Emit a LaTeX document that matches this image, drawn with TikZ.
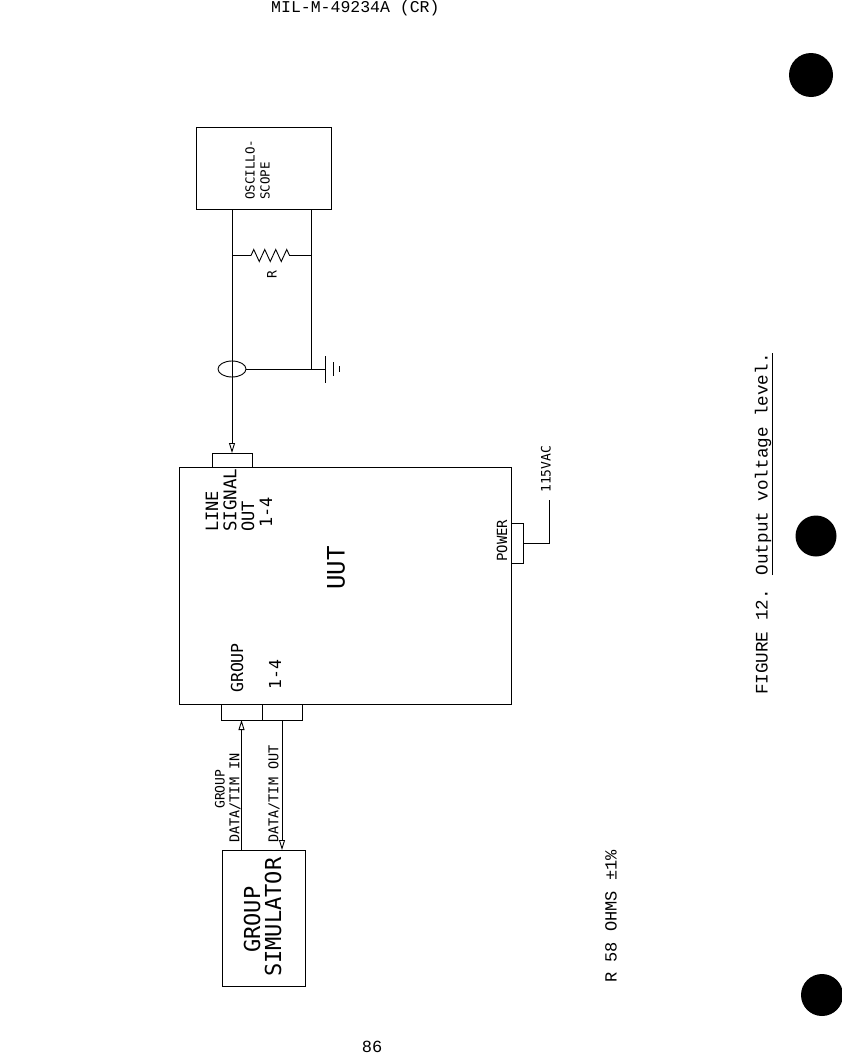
\documentclass[tikz,border=0pt]{standalone}
\usepackage{fontspec}
\setmainfont{Liberation Mono}
\newfontfamily\plotfont{DejaVu Sans Mono}
\usetikzlibrary{positioning,arrows.meta}
\usetikzlibrary{shapes.geometric,decorations.pathmorphing}

\begin{document}
\begin{tikzpicture}[
x=1pt,y=-1pt,
squarednode/.style={rectangle, draw=black, line width=.9pt, inner sep=0pt, outer sep=0pt},
wire/.style={draw=black, line width=.9pt},
feed/.style={wire, -{Triangle[open,length=10pt,width=6pt]}},
sidetext/.style={rotate=90, anchor=west, inner sep=0pt, font=\plotfont\fontsize{#1}{#1}\selectfont},
typed/.style={inner sep=0pt, font=\fontsize{#1}{#1}\selectfont},
blackdot/.style={circle, fill=black, inner sep=0pt, minimum size=#1}
]
\useasboundingbox (0,0) rectangle (842,1055);
%Nodes
\node[squarednode, minimum width=332pt, minimum height=237pt] (uut) at (345,585.5) {};
\node[squarednode, minimum width=135pt, minimum height=82pt] (scope) [above=258pt of uut, xshift=-81.5pt] {};
\node[squarednode, minimum width=83pt, minimum height=136pt] (simulator) [below=146pt of uut, xshift=-81.5pt] {};
\node[squarednode, minimum width=40pt, minimum height=14pt] (lineport) [above=0pt of uut, xshift=-113pt] {};
\node[squarednode, minimum width=41pt, minimum height=16pt] (groupin) [below=0pt of uut, xshift=-103.5pt] {};
\node[squarednode, minimum width=40pt, minimum height=16pt] (groupout) [right=0pt of groupin] {};
\node[squarednode, minimum width=12pt, minimum height=40pt] (powerport) [right=0pt of uut, yshift=42.5pt] {};
\node[ellipse, draw=black, line width=.9pt, inner sep=0pt, outer sep=0pt, minimum width=28pt, minimum height=16pt] (clamp) at (232,369) {};
%Junctions
\coordinate (scopeleft) at (scope.south -| clamp);
\coordinate (scoperight) at (311.5,209);
\coordinate (resleft) at (232,255.5);
\coordinate (resright) at (311.5,255.5);
\coordinate (gnd) at (325.5,369);
\coordinate (gndwire) at (311.5,369);
\coordinate (acbend) at (549,543);
\coordinate (acend) at (549,500);
%Lines
\draw[feed] (scopeleft) -- (lineport.north -| clamp);
\draw[wire] (scoperight) -- (gndwire);
\draw[wire] (clamp.east) -- (gnd);
\draw[wire, decorate, decoration={zigzag, segment length=11pt, amplitude=6pt, pre length=19pt, post length=20pt}] (resleft) -- (resright);
\draw[wire] (powerport.east) -- (acbend) -- (acend);
\draw[feed] (simulator.north -| groupin) -- (groupin.south);
\draw[feed] (groupout.south) -- (simulator.north -| groupout);
%Ground bars
\draw[wire] ([yshift=13pt]gnd) -- ([yshift=-14pt]gnd);
\draw[wire] ([xshift=8pt,yshift=7pt]gnd) -- ([xshift=8pt,yshift=-7pt]gnd);
\draw[wire] ([xshift=14pt,yshift=3pt]gnd) -- ([xshift=14pt,yshift=-3pt]gnd);
%Labels
\node[sidetext=12.5] (oscillotext) at (250,200) {OSCILLO-};
\node[sidetext=12.5] (scopetext) at (265,200) {SCOPE};
\node[sidetext=13] (rtext) at (272,279) {R};
\node[sidetext=17] (linetext) at (212,532) {LINE};
\node[sidetext=17.5] (signaltext) at (230,532) {SIGNAL};
\node[sidetext=17] (outtext) at (248,532) {OUT};
\node[sidetext=17] (portnumtext) at (266,528) {1-4};
\node[sidetext=24] (uuttext) at (336,590) {UUT};
\node[sidetext=14] (powertext) at (502,562) {POWER};
\node[sidetext=13] (actext) at (546,493) {115VAC};
\node[sidetext=16.5] (grouptext) at (237,693) {GROUP};
\node[sidetext=16.5] (groupnumtext) at (275,690) {1-4};
\node[sidetext=13] (grouplabel) at (220,809) {GROUP};
\node[sidetext=13.5] (intext) at (235,843) {DATA/TIM IN};
\node[sidetext=13.5] (outlabel) at (274,843) {DATA/TIM OUT};
\node[sidetext=22] (simtext) at (252,953) {GROUP};
\node[sidetext=22] (simtext2) at (273,977) {SIMULATOR};
\node[typed=16.5, anchor=west] (header) at (271,8) {MIL-M-49234A (CR)};
\node[typed=17] (pagenum) at (372,1047) {86};
\node[typed=17, rotate=90, anchor=west] (tolerance) at (611,983) {R 58 OHMS ±1\%};
\node[typed=17.6, rotate=90, anchor=west] (caption) at (764,695) {FIGURE 12. \underline{Output voltage level.}};
%Dots
\node[blackdot=44pt] (dotone) at (811,75) {};
\node[blackdot=41pt] (dottwo) at (816,536) {};
\node[blackdot=42pt] (dotthree) at (822,995) {};
\end{tikzpicture}
\end{document}
